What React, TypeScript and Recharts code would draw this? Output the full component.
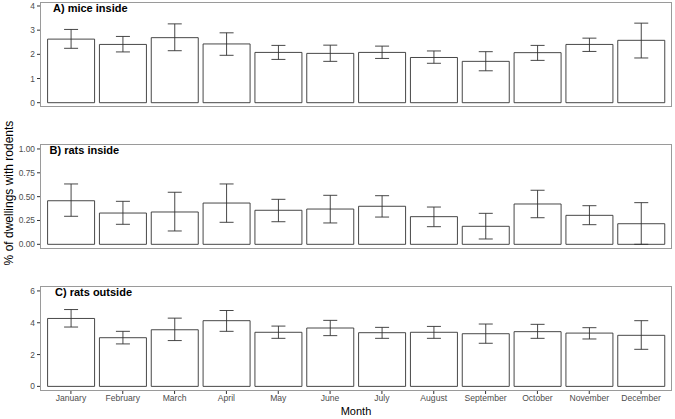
import { BarChart, Bar, XAxis, YAxis, ErrorBar } from 'recharts'

const months = ['January', 'February', 'March', 'April', 'May', 'June', 'July', 'August', 'September', 'October', 'November', 'December']

const miceMean = [2.63, 2.41, 2.69, 2.43, 2.08, 2.04, 2.08, 1.87, 1.71, 2.07, 2.41, 2.58]
const miceLow = [2.25, 2.1, 2.15, 1.96, 1.79, 1.71, 1.83, 1.63, 1.32, 1.75, 2.12, 1.85]
const miceHigh = [3.03, 2.74, 3.26, 2.89, 2.37, 2.38, 2.34, 2.14, 2.11, 2.37, 2.67, 3.29]

const ratsInMean = [0.457, 0.328, 0.339, 0.433, 0.357, 0.37, 0.399, 0.29, 0.189, 0.423, 0.304, 0.216]
const ratsInLow = [0.294, 0.21, 0.14, 0.231, 0.237, 0.224, 0.286, 0.185, 0.056, 0.279, 0.206, 0.0]
const ratsInHigh = [0.633, 0.451, 0.546, 0.633, 0.472, 0.514, 0.51, 0.391, 0.325, 0.567, 0.405, 0.437]

const ratsOutMean = [4.27, 3.06, 3.56, 4.13, 3.4, 3.67, 3.375, 3.4, 3.31, 3.44, 3.35, 3.21]
const ratsOutLow = [3.73, 2.67, 2.88, 3.46, 3.02, 3.19, 3.02, 3.02, 2.71, 3.02, 2.98, 2.33]
const ratsOutHigh = [4.83, 3.46, 4.29, 4.77, 3.79, 4.15, 3.71, 3.77, 3.92, 3.9, 3.69, 4.13]

const miceTicks = [0, 1, 2, 3, 4]
const ratsInTicks = [0, 0.25, 0.5, 0.75, 1]
const ratsOutTicks = [0, 2, 4, 6]

const FONT = '"Liberation Sans", Arial, sans-serif'

const rows = (mean: number[], low: number[], high: number[]) =>
  months.map((m, i) => ({ month: m, mean: mean[i], err: [mean[i] - low[i], high[i] - mean[i]] }))

type PanelProps = {
  title: string
  titleX: number
  top: number
  data: ReturnType<typeof rows>
  domain: [number, number]
  ticks: number[]
  digits: number
  showX?: boolean
}

function Panel({ title, titleX, top, data, domain, ticks, digits, showX }: PanelProps) {
  const plotH = 105
  return (
    <>
      <div style={{ position: 'absolute', left: 0, top }}>
        <BarChart
          width={675}
          height={plotH + (showX ? 20 : 0)}
          data={data}
          margin={{ top: 0, right: 3, bottom: 0, left: 0 }}
          barCategoryGap="5%"
        >
          <XAxis
            dataKey="month"
            hide={!showX}
            height={20}
            interval={0}
            padding={{ left: 5, right: 5 }}
            axisLine={false}
            tickLine={{ stroke: '#333' }}
            tickSize={3}
            tickMargin={1}
            tick={{ fontSize: 8.6, fill: '#4d4d4d', fontFamily: FONT }}
          />
          <YAxis
            width={40}
            type="number"
            domain={domain}
            ticks={ticks}
            interval={0}
            allowDataOverflow
            axisLine={false}
            tickLine={{ stroke: '#333' }}
            tickSize={3}
            tickMargin={2}
            tickFormatter={(v: number) => v.toFixed(digits)}
            tick={{ fontSize: 8.4, fill: '#4d4d4d', fontFamily: FONT }}
          />
          <Bar dataKey="mean" fill="#ffffff" stroke="#333" strokeWidth={0.9} isAnimationActive={false}>
            <ErrorBar dataKey="err" direction="y" width={7} stroke="#333" strokeWidth={0.9} />
          </Bar>
        </BarChart>
      </div>
      <div
        style={{
          position: 'absolute', left: 40, top, width: 632, height: plotH,
          border: '1px solid #9a9a9a', boxSizing: 'border-box', pointerEvents: 'none',
        }}
      />
      <div
        style={{
          position: 'absolute', left: titleX, top: top + 1, fontFamily: FONT,
          fontSize: 11, lineHeight: '11px', fontWeight: 'bold', color: '#000', whiteSpace: 'nowrap',
        }}
      >
        {title}
      </div>
    </>
  )
}

export default function App() {
  return (
    <div style={{ position: 'absolute', left: 0, top: 0, width: 675, height: 419, background: '#fff', overflow: 'hidden' }}>
      <Panel title="A) mice inside" titleX={53} top={2} data={rows(miceMean, miceLow, miceHigh)}
        domain={[-0.178, 4.165]} ticks={miceTicks} digits={0} />
      <Panel title="B) rats inside" titleX={49.5} top={144} data={rows(ratsInMean, ratsInLow, ratsInHigh)}
        domain={[-0.049, 1.052]} ticks={ratsInTicks} digits={2} />
      <Panel title="C) rats outside" titleX={55} top={286} data={rows(ratsOutMean, ratsOutLow, ratsOutHigh)}
        domain={[-0.29, 6.31]} ticks={ratsOutTicks} digits={0} showX />
      <div style={{ position: 'absolute', left: 0, width: 712, top: 405, textAlign: 'center', fontFamily: FONT, fontSize: 11, color: '#000' }}>
        Month
      </div>
      <div
        style={{
          position: 'absolute', left: 9 - 110, top: 193 - 7, width: 220, textAlign: 'center',
          transform: 'rotate(-90deg)', fontFamily: FONT, fontSize: 12, lineHeight: '14px', color: '#000',
        }}
      >
        % of dwellings with rodents
      </div>
    </div>
  )
}
